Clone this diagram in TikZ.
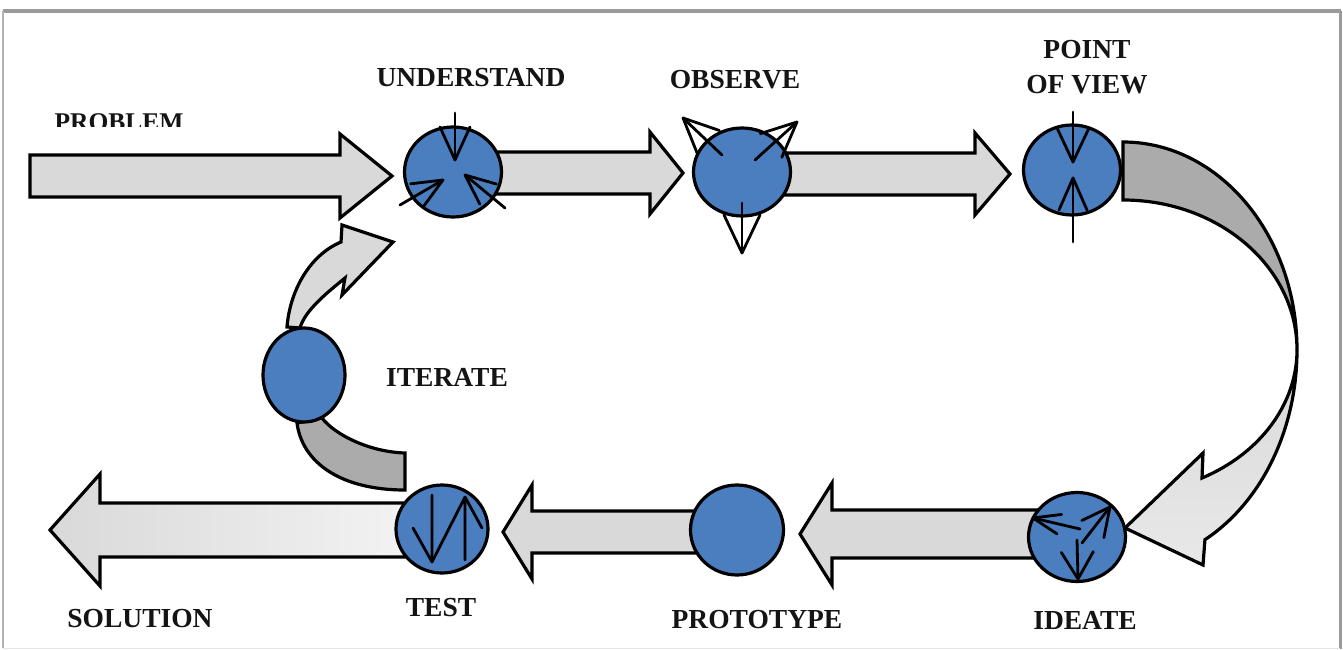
\documentclass[tikz,border=0pt]{standalone}
\usepackage{fontspec}
\setmainfont{Liberation Serif}
\usetikzlibrary{shapes.geometric,calc}

\definecolor{stageblue}{HTML}{4A7EBF}
\definecolor{shaftgray}{HTML}{D9D9D9}
\definecolor{darkband}{HTML}{ABABAB}
\definecolor{framegray}{HTML}{9A9A9A}

% straight block arrow: #1 style, #2 tail x, #3 head-back x, #4 tip x,
% #5 centre y, #6 shaft half height, #7 head half height
\newcommand\BlkArrow[7]{%
  \path[#1] (#2,#5-#6) -- (#3,#5-#6) -- (#3,#5-#7) -- (#4,#5)
    -- (#3,#5+#7) -- (#3,#5+#6) -- (#2,#5+#6) -- cycle;}

% small open arrow drawn inside a stage: #1 start, #2 tip, #3 head length, #4 head half width
\newcommand\GlyphArrow[4]{%
  \coordinate (gtip) at (#2);
  \coordinate (gbase) at ($(#2)!#3!(#1)$);
  \draw[glyph] (#1) -- (gtip);
  \draw[glyph] ($(gbase)!#4!90:(gtip)$) -- (gtip) -- ($(gbase)!#4!-90:(gtip)$);}

\begin{document}
\begin{tikzpicture}[x=1pt,y=-1pt,
  blockarrow/.style={draw=black, line width=3.2pt, fill=shaftgray, line join=miter},
  stage/.style={ellipse, draw=black, line width=3.2pt, fill=stageblue, inner sep=0pt},
  glyph/.style={draw=black, line width=2.8pt, line cap=round, line join=round},
  steptext/.style={font=\bfseries\fontsize{27.5}{33}\selectfont, inner sep=0pt, text=black!92, align=center}]

\useasboundingbox (0,0) rectangle (1343,650);

% page frame
\draw[framegray, line width=4pt] (3,11) -- (1341,11);
\draw[black!30, line width=1.5pt] (3,11) -- (3,648);
\draw[framegray, line width=3pt] (1340,11) -- (1340,649);
\draw[black!10, line width=1pt] (3,648) -- (1340,648);

% straight block arrows
\BlkArrow{blockarrow}{30}{340}{392}{176}{21}{42}
\BlkArrow{blockarrow}{490}{650}{683}{173}{21}{41}
\BlkArrow{blockarrow}{780}{975}{1010}{174}{21}{41}
\BlkArrow{blockarrow}{1040}{832}{800}{534}{24}{51}
\BlkArrow{blockarrow}{700}{532}{503}{532}{21}{47}
\BlkArrow{blockarrow, fill=none, left color=shaftgray, right color=white!95!black}{405}{100}{50}{530}{27}{56}

% large return arrow on the right
\path[blockarrow, fill=darkband] (1123,142)
  arc[start angle=-90, end angle=0, x radius=174, y radius=208]
  arc[start angle=0, end angle=-90, x radius=174, y radius=150] -- cycle;
\path[blockarrow, fill=none, top color=shaftgray, bottom color=white!91!black] (1297,350)
  arc[start angle=0, end angle=61.9, x radius=174, y radius=215]
  -- (1203,565) -- (1125,528) -- (1203,453) -- (1202,478)
  arc[start angle=63, end angle=0, x radius=174, y radius=144] -- cycle;

% iteration loop pieces
\path[blockarrow] (287,327) .. controls (290,290) and (310,255) .. (341,242)
  -- (342,225) -- (393,242) -- (342,295) -- (345,278)
  .. controls (328,292) and (305,310) .. (300,328) -- cycle;
\path[blockarrow, fill=darkband] (297,423) .. controls (302,462) and (340,490) .. (405,490)
  -- (405,453) .. controls (370,452) and (335,435) .. (322,418) -- cycle;

% stages
\node[stage, minimum width=97, minimum height=90] (u)  at (453,172) {};
\node[stage, minimum width=97, minimum height=88] (o)  at (742,172) {};
\node[stage, minimum width=97, minimum height=90] (v)  at (1072,170) {};
\node[stage, minimum width=97, minimum height=89] (i)  at (1077,537) {};
\node[stage, minimum width=93, minimum height=90] (p)  at (737,530) {};
\node[stage, minimum width=92, minimum height=88] (t)  at (442,529) {};
\node[stage, minimum width=82, minimum height=94] (it) at (304,375) {};

% marks inside the stages
\GlyphArrow{455,113}{455,160}{33pt}{15pt}
\GlyphArrow{400,205}{443,180}{30pt}{13pt}
\GlyphArrow{505,208}{465,175}{30pt}{13pt}

\GlyphArrow{722,155}{683,118}{35pt}{16pt}
\GlyphArrow{755,160}{797,122}{35pt}{16pt}
\GlyphArrow{742,203}{742,253}{38pt}{18pt}

\GlyphArrow{1073,112}{1073,162}{34pt}{16pt}
\GlyphArrow{1073,242}{1073,178}{32pt}{14pt}

\GlyphArrow{1080,529}{1033,518}{27pt}{10pt}
\GlyphArrow{1082,543}{1110,507}{28pt}{14pt}
\GlyphArrow{1077,540}{1078,579}{27pt}{16pt}

\draw[glyph] (413,528) -- (432,562) -- (432,495);
\draw[glyph] (432,562) -- (465,497) -- (465,560);
\draw[glyph] (465,497) -- (482,528);

% labels
\node[steptext] (lu) at (471,78) {UNDERSTAND};
\node[steptext] (lo) at (735,80) {OBSERVE};
\node[steptext] (lv) at (1087,67) {POINT\\[2pt]OF VIEW};
\node[steptext] (lit) at (447,377) {ITERATE};
\node[steptext] (ls) at (140,619) {SOLUTION};
\node[steptext] (lt) at (441,608) {TEST};
\node[steptext] (lp) at (757,620) {PROTOTYPE};
\node[steptext] (li) at (1085,620) {IDEATE};
\begin{scope}
  \clip (0,100) rectangle (400,127);
  \node[steptext, anchor=north, font=\bfseries\fontsize{25.5}{30}\selectfont] (lb) at (119,113) {PROBLEM};
\end{scope}
\end{tikzpicture}
\end{document}
